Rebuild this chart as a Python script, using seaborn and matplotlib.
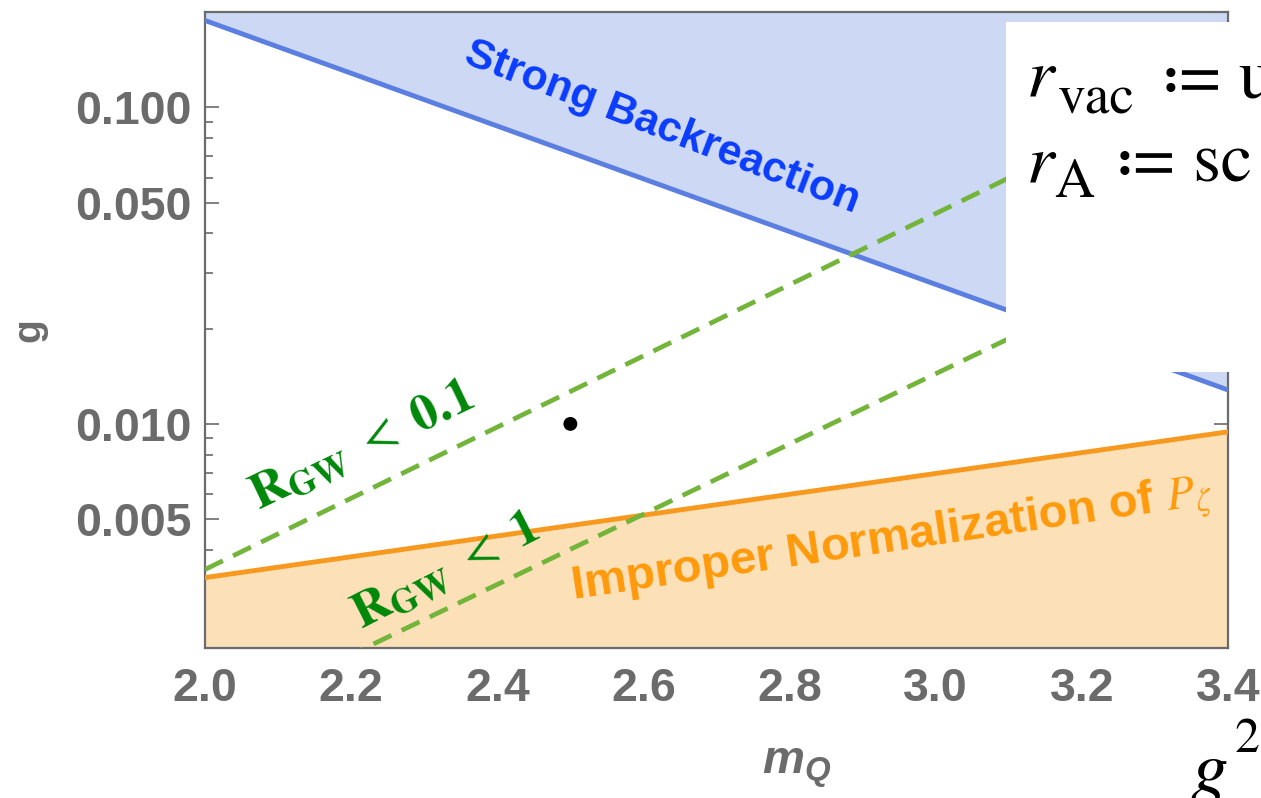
import matplotlib
matplotlib.use("Agg")
import matplotlib.pyplot as plt
import matplotlib.patches as mpatches
import numpy as np
import pandas as pd
import seaborn as sns

# boundary lines: value of g at m_Q = 2.0 and 3.4 (straight on log scale)
mq_ends = [2.0, 3.4]
g_backreaction = [0.188, 0.0128]
g_normalization = [0.00327, 0.00944]
g_rgw_01 = [0.00347, 0.13]
g_rgw_1 = [0.00112, 0.040]
point_mq = [2.5]
point_g = [0.01]

y_ticks = [0.005, 0.01, 0.05, 0.1]
y_ticklabels = ["0.005", "0.010", "0.050", "0.100"]
x_ticks = [2.0, 2.2, 2.4, 2.6, 2.8, 3.0, 3.2, 3.4]

sns.set_style("ticks")
plt.rcParams['font.family'] = ['Liberation Sans', 'DejaVu Sans']
plt.rcParams['mathtext.fontset'] = 'custom'
plt.rcParams['mathtext.it'] = 'Liberation Sans:italic:bold'
plt.rcParams['mathtext.rm'] = 'Liberation Sans:bold'

df = pd.DataFrame({
    'm_Q': mq_ends,
    'back': g_backreaction,
    'norm': g_normalization,
    'r01': g_rgw_01,
    'r1': g_rgw_1,
})

fig = plt.figure(figsize=(12.61, 7.98), dpi=100)
ax = fig.add_axes([0.1626, 0.188, 0.8112, 0.797])
ax.set_yscale('log')

ax.fill_between(df['m_Q'], df['back'], 1.0, color='#cdd8f4', lw=0, zorder=1)
ax.fill_between(df['m_Q'], 1e-4, df['norm'], color='#fce0b8', lw=0, zorder=1)

sns.lineplot(data=df, x='m_Q', y='back', ax=ax, color='#5b7fe1', lw=3.5, zorder=3)
sns.lineplot(data=df, x='m_Q', y='norm', ax=ax, color='#f7991f', lw=3.5, zorder=3)
for col in ['r01', 'r1']:
    sns.lineplot(data=df, x='m_Q', y=col, ax=ax, color='#72b53a', lw=3.4,
                 dashes=False, zorder=4).lines[-1].set_dashes((4.2, 2.4))
sns.scatterplot(x=point_mq, y=point_g, ax=ax, color='black', s=100, zorder=5,
                edgecolor='none')

ax.set_xlim(2.0, 3.4)
ax.set_ylim(0.00196, 0.2)

# ticks and frame
frame = '#6b6b6b'
for s in ax.spines.values():
    s.set_color(frame)
    s.set_linewidth(1.6)
ax.set_xticks(x_ticks)
ax.set_xticks(np.arange(2.0, 3.401, 0.05), minor=True)
ax.set_xticklabels([f"{v:.1f}" for v in x_ticks])
ax.set_yticks(y_ticks)
ax.set_yticklabels(y_ticklabels)
ax.yaxis.set_minor_locator(matplotlib.ticker.LogLocator(base=10, subs=np.arange(2, 10)))
ax.yaxis.set_minor_formatter(matplotlib.ticker.NullFormatter())
ax.tick_params(which='both', direction='in', top=True, right=True, color=frame, width=1.2)
ax.tick_params(which='major', length=10)
ax.tick_params(which='minor', length=6)
ax.tick_params(axis='y', which='major', pad=10)
ax.tick_params(axis='x', which='major', pad=14)
for lab in ax.get_xticklabels() + ax.get_yticklabels():
    lab.set_fontsize(33.5)
    lab.set_fontweight('bold')
    lab.set_color(frame)

ax.set_xlabel('$m_Q$', fontsize=34, color=frame, va='center')
ax.xaxis.set_label_coords(0.578, -0.19)
ax.set_ylabel('g', fontsize=28, color=frame, fontweight='bold', labelpad=20)

# region labels
ax.text(2.625, 0.086, 'Strong Backreaction', color='#0a3cff', fontsize=31,
        fontweight='bold', rotation=-21, ha='center', va='center', zorder=6)
ax.text(2.94, 0.0043, r'Improper Normalization of $P_\zeta$', color='#ff9a0a',
        fontsize=34, fontweight='bold', rotation=8.5, ha='center', va='center',
        zorder=6, math_fontfamily='stix')
ax.text(2.215, 0.0085, r'$\mathbf{R}_{\mathbf{GW}}\ <\ \mathbf{0.1}$', color='#00880a',
        fontsize=37, rotation=25.5, ha='center', va='center', zorder=6,
        math_fontfamily='stix')
ax.text(2.33, 0.0034, r'$\mathbf{R}_{\mathbf{GW}}\ <\ \mathbf{1}$', color='#00880a',
        fontsize=37, rotation=27, ha='center', va='center', zorder=6,
        math_fontfamily='stix')

# overlay box from the slide
W, H = 1261, 798
box = mpatches.Rectangle((1006 / W, 1 - 372 / H), 300 / W, 350 / H,
                         transform=fig.transFigure, facecolor='white',
                         edgecolor='none', zorder=10)
fig.patches.append(box)
serif = dict(family='STIXGeneral', color='black', zorder=11)
fig.text(1027 / W, 1 - 97 / H, 'r', fontsize=51, style='italic', **serif)
fig.text(1058 / W, 1 - 113 / H, 'vac', fontsize=40, **serif)
fig.text(1163 / W, 1 - 97 / H, '≔ u', fontsize=51, **serif)
fig.text(1027 / W, 1 - 182 / H, 'r', fontsize=51, style='italic', **serif)
fig.text(1054 / W, 1 - 197 / H, 'A', fontsize=40, **serif)
fig.text(1117 / W, 1 - 182 / H, '≔ sc', fontsize=51, **serif)
fig.text(1190 / W, 1 - 792 / H, 'g', fontsize=54, style='italic', **serif)
fig.text(1234 / W, 1 - 752 / H, '2', fontsize=36, **serif)

fig.savefig('out.png', dpi=100)
